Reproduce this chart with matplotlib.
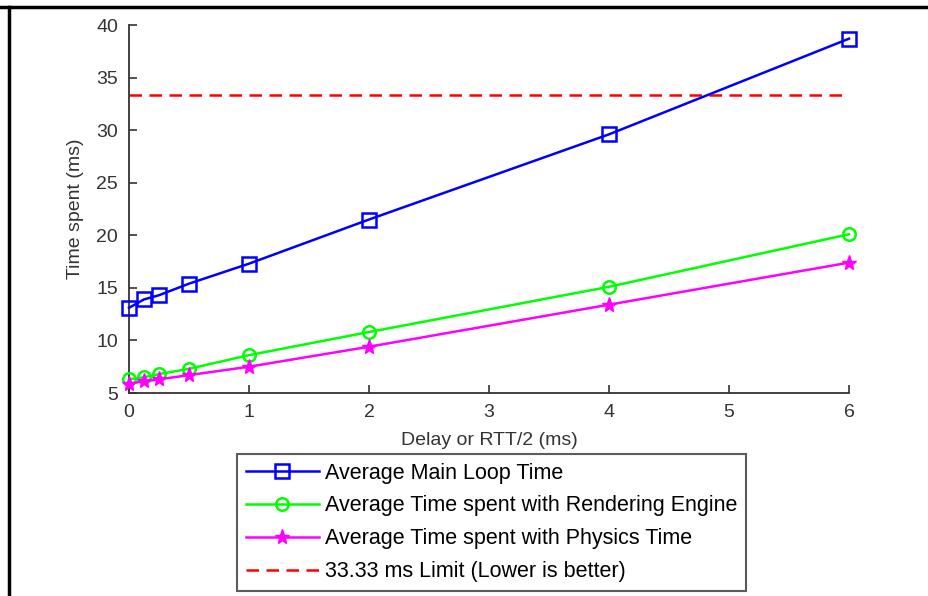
import matplotlib
matplotlib.use("Agg")
from matplotlib import pyplot as plt
from matplotlib.lines import Line2D

plt.rcParams['font.family'] = ['Liberation Sans', 'DejaVu Sans']

delay = [0, 0.125, 0.25, 0.5, 1, 2, 4, 6]
main_loop = [13.1, 13.9, 14.3, 15.4, 17.3, 21.5, 29.6, 38.7]
rendering = [6.3, 6.5, 6.8, 7.3, 8.6, 10.8, 15.1, 20.1]
physics = [5.9, 6.1, 6.3, 6.7, 7.5, 9.4, 13.4, 17.4]
limit = 33.33

fig = plt.figure(figsize=(9.29, 5.96), dpi=100)
ax = fig.add_axes([129 / 929, 1 - 393 / 596, 720 / 929, 368 / 596])

ax.plot(delay, main_loop, c="#0000ff", lw=1.8, marker="s", ms=10, mfc="none", mew=1.8,
        label="Average Main Loop Time", clip_on=False, zorder=4)
ax.plot(delay, rendering, c="#00ff00", lw=1.8, marker="o", ms=9, mfc="none", mew=1.8,
        label="Average Time spent with Rendering Engine", clip_on=False, zorder=4)
ax.plot(delay, physics, c="#ff00ff", lw=1.8, marker="*", ms=11,
        label="Average Time spent with Physics Time", clip_on=False, zorder=4)
ax.plot([delay[0], delay[-1]], [limit, limit], ls=(0, (5, 3)), c="#ff0000", lw=1.8,
        label="33.33 ms Limit (Lower is better)")

ax.set_xlim(0, 6)
ax.set_ylim(5, 40)
ax.set_xticks(range(0, 7))
ax.set_yticks(range(5, 41, 5))
ax.spines["top"].set_visible(False)
ax.spines["right"].set_visible(False)
for s in ("left", "bottom"):
    ax.spines[s].set_color("#333333")
    ax.spines[s].set_linewidth(1.3)
ax.tick_params(direction="in", length=6, width=1.2, labelsize=14, colors="#333333", pad=8)
ax.set_xlabel("Delay or RTT/2 (ms)", fontsize=14, color="#333333", labelpad=8)
ax.set_ylabel("Time spent (ms)", fontsize=14, color="#333333", labelpad=9)

leg = fig.legend(loc="upper left", bbox_to_anchor=(237 / 929, 1 - 454 / 596), borderaxespad=0,
                 fontsize=15.5, fancybox=False, edgecolor="#333333", handlelength=3.4,
                 handletextpad=0.3, labelspacing=0.55, borderpad=0.4)
leg.get_frame().set_linewidth(1.5)

fig.add_artist(Line2D([0, 1], [1 - 7 / 596, 1 - 7 / 596], transform=fig.transFigure, c="black", lw=2.5))
fig.add_artist(Line2D([9 / 929, 9 / 929], [0, 1 - 7 / 596], transform=fig.transFigure, c="black", lw=2.5))

fig.savefig("out.png", dpi=100)
